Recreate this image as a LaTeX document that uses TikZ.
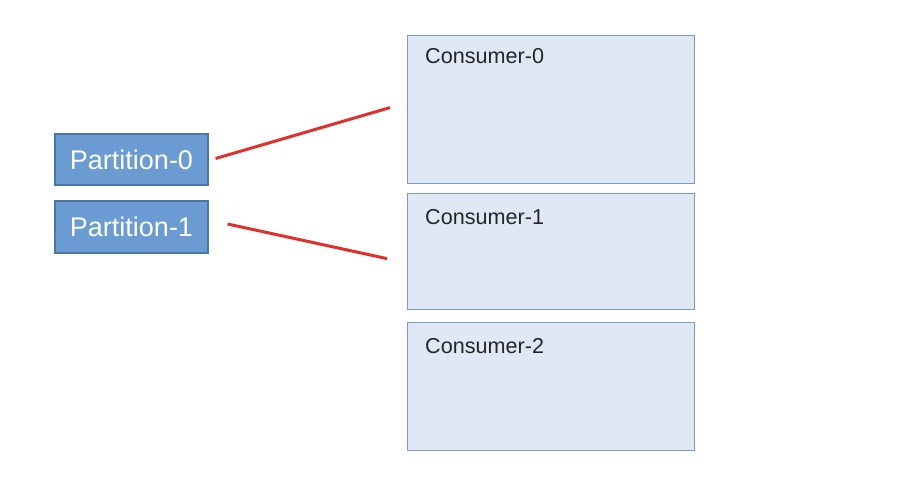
\documentclass[tikz,border=0pt]{standalone}
\usepackage{fontspec}
\setmainfont{Liberation Sans}
\usetikzlibrary{calc}
\definecolor{partfill}{HTML}{6A9BD2}
\definecolor{partdraw}{HTML}{4A76A8}
\definecolor{consfill}{HTML}{DFE9F5}
\definecolor{consdraw}{HTML}{7C99C0}
\definecolor{linkred}{HTML}{E0302B}
\tikzset{
    partbox/.style={draw=partdraw, fill=partfill, line width=1.2pt, text=white,
        font=\fontsize{27}{30}\selectfont, minimum width=153pt, minimum height=51pt, inner sep=0pt},
    consbox/.style={draw=consdraw, fill=consfill, line width=1.2pt, anchor=north west,
        minimum width=287pt, inner sep=0pt},
    conslabel/.style={anchor=base west, inner sep=0pt, text=black!85,
        font=\fontsize{21.6}{25}\selectfont},
    link/.style={draw=linkred, line width=3pt}
}
\begin{document}
\begin{tikzpicture}[x=1pt, y=-1pt]
    \useasboundingbox (0,0) rectangle (900,492);

    % Partitions
    \node[partbox] (p0) at (131.5,159.5) {Partition-0};
    \node[partbox, minimum height=52pt] (p1) at (131.5,227) {Partition-1};

    % Consumers
    \node[consbox, minimum height=148pt] (c0) at (407,35) {};
    \node[conslabel] (c0t) at ($(c0.north west)+(18,29)$) {Consumer-0};

    \node[consbox, minimum height=116pt] (c1) at (407,193) {};
    \node[conslabel] (c1t) at ($(c1.north west)+(18,31)$) {Consumer-1};

    \node[consbox, minimum height=128pt] (c2) at (407,322) {};
    \node[conslabel] (c2t) at ($(c2.north west)+(18,31)$) {Consumer-2};

    % Assignments
    \coordinate (a0) at ($(p0.east)+(7,-1)$);
    \coordinate (b0) at ($(c0.west)+(-17,-2)$);
    \coordinate (a1) at ($(p1.east)+(19,-3)$);
    \coordinate (b1) at ($(c1.west)+(-20,7)$);
    \draw[link] (a0) -- (b0);
    \draw[link] (a1) -- (b1);
\end{tikzpicture}
\end{document}
